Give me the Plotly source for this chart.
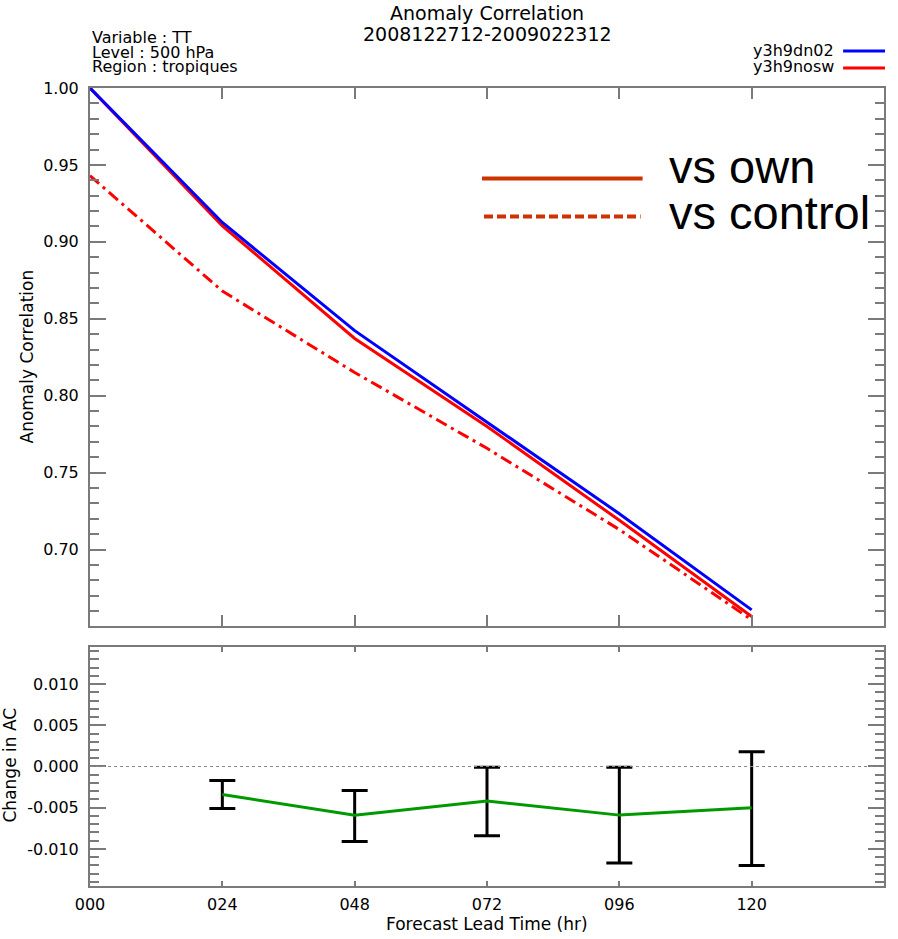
import plotly.graph_objects as go

# ---- data ----
lead_hours = [0, 24, 48, 72, 96, 120]
tick_hours = [0, 24, 48, 72, 96, 120]
tick_text = ["000", "024", "048", "072", "096", "120"]

ac_y3h9dn02 = [1.000, 0.9126, 0.8423, 0.7827, 0.7233, 0.6608]
ac_y3h9nosw = [1.000, 0.9104, 0.8372, 0.7800, 0.7190, 0.6565]
ac_vs_control = [0.943, 0.868, 0.8151, 0.7658, 0.7130, 0.6543]

diff_hours = [24, 48, 72, 96, 120]
ac_change = [-0.0034, -0.0059, -0.0042, -0.0059, -0.0050]
ci_upper = [-0.0017, -0.0029, -0.0001, -0.0001, 0.0018]
ci_lower = [-0.0051, -0.0091, -0.0084, -0.0117, -0.0120]

y2_tickvals = [-0.010, -0.005, 0.000, 0.005, 0.010]
y2_ticktext = ["-0.010", "-0.005", "0.000", "0.005", "0.010"]

err_plus = [u - v for u, v in zip(ci_upper, ac_change)]
err_minus = [v - l for v, l in zip(ac_change, ci_lower)]

FONT = "DejaVu Sans"
AXC = "#7a7a7a"

fig = go.Figure()
fig.add_trace(go.Scatter(x=lead_hours, y=ac_vs_control, mode="lines",
                         line=dict(color="#ff0000", width=3, dash="12px,5px,3px,5px"),
                         xaxis="x", yaxis="y", showlegend=False))
fig.add_trace(go.Scatter(x=lead_hours, y=ac_y3h9nosw, mode="lines",
                         line=dict(color="#ff0000", width=3),
                         xaxis="x", yaxis="y", showlegend=False))
fig.add_trace(go.Scatter(x=lead_hours, y=ac_y3h9dn02, mode="lines",
                         line=dict(color="#0000ff", width=3),
                         xaxis="x", yaxis="y", showlegend=False))
fig.add_trace(go.Scatter(x=diff_hours, y=ac_change, mode="lines",
                         line=dict(color="#009a00", width=3),
                         error_y=dict(type="data", symmetric=False, array=err_plus,
                                      arrayminus=err_minus, color="black",
                                      thickness=3, width=13),
                         xaxis="x2", yaxis="y2", showlegend=False))

common_x = dict(range=[0, 144], showline=True, linecolor=AXC, linewidth=2,
                mirror="ticks", ticks="inside", tickcolor=AXC, tickwidth=1.5,
                tickvals=tick_hours, showgrid=False, zeroline=False)
common_y = dict(showline=True, linecolor=AXC, linewidth=2, mirror="ticks",
                ticks="inside", tickcolor=AXC, tickwidth=1.5, ticklen=16,
                showgrid=False, zeroline=False,
                tickfont=dict(family=FONT, size=16, color="black"),
                ticklabelstandoff=6)

fig.update_layout(
    width=898, height=939,
    margin=dict(l=90, r=12, t=88, b=53),
    paper_bgcolor="white", plot_bgcolor="white",
    xaxis=dict(**common_x, anchor="y", ticklen=11, showticklabels=False),
    yaxis=dict(**common_y, domain=[0.3258, 1.0], anchor="x",
               range=[0.6503, 1.0], dtick=0.05, tick0=0, tickformat=".2f",
               minor=dict(dtick=0.01, tick0=0, ticks="inside", ticklen=9,
                          tickcolor=AXC, tickwidth=1.5)),
    xaxis2=dict(**common_x, anchor="y2", ticklen=5, ticktext=tick_text,
                tickfont=dict(family=FONT, size=16, color="black"),
                ticklabelstandoff=3),
    yaxis2=dict(**common_y, domain=[0.0, 0.2995], anchor="x2",
                range=[-0.0145, 0.0145], tickvals=y2_tickvals, ticktext=y2_ticktext,
                minor=dict(dtick=0.001, tick0=0, ticks="inside", ticklen=9,
                           tickcolor=AXC, tickwidth=1.5)),
)

# zero reference line in lower panel
fig.add_shape(type="line", xref="x2 domain", yref="y2", x0=0, x1=1, y0=0, y1=0,
              line=dict(color="#8a8a8a", width=1.2, dash="dot"))

def px_to_py(ypx):
    return 1 + (89 - ypx) / 798.0

def px_to_px(xpx):
    return (xpx - 90) / 796.0

ann = []
ann.append(dict(text="Anomaly Correlation", x=0.5, y=px_to_py(14), xref="paper", yref="paper",
                xanchor="center", yanchor="middle", showarrow=False,
                font=dict(family=FONT, size=19, color="black")))
ann.append(dict(text="2008122712-2009022312", x=0.5, y=px_to_py(35), xref="paper", yref="paper",
                xanchor="center", yanchor="middle", showarrow=False,
                font=dict(family=FONT, size=19, color="black")))
for txt, yy in [("Variable : TT", 38), ("Level : 500 hPa", 53), ("Region : tropiques", 68)]:
    ann.append(dict(text=txt, x=0, y=px_to_py(yy), xref="paper", yref="paper",
                    xanchor="left", yanchor="middle", showarrow=False,
                    font=dict(family=FONT, size=16, color="black")))
for txt, yy in [("y3h9dn02", 52), ("y3h9nosw", 68)]:
    ann.append(dict(text=txt, x=px_to_px(838), y=px_to_py(yy), xref="paper", yref="paper",
                    xanchor="right", yanchor="middle", showarrow=False,
                    font=dict(family=FONT, size=16, color="black")))
ann.append(dict(text="vs own", x=px_to_px(668), y=px_to_py(167), xref="paper", yref="paper",
                xanchor="left", yanchor="middle", showarrow=False,
                font=dict(family="Liberation Sans", size=47, color="black")))
ann.append(dict(text="vs control", x=px_to_px(668), y=px_to_py(213), xref="paper", yref="paper",
                xanchor="left", yanchor="middle", showarrow=False,
                font=dict(family="Liberation Sans", size=47, color="black")))
ann.append(dict(text="Anomaly Correlation", x=0, y=px_to_py(357.5), xref="paper", yref="paper",
                xanchor="center", yanchor="middle", xshift=-64, textangle=-90, showarrow=False,
                font=dict(family=FONT, size=17, color="black")))
ann.append(dict(text="Change in AC", x=0, y=px_to_py(766.5), xref="paper", yref="paper",
                xanchor="center", yanchor="middle", xshift=-81, textangle=-90, showarrow=False,
                font=dict(family=FONT, size=17, color="black")))
ann.append(dict(text="Forecast Lead Time (hr)", x=0.5, y=px_to_py(925), xref="paper", yref="paper",
                xanchor="center", yanchor="middle", showarrow=False,
                font=dict(family=FONT, size=17, color="black")))
fig.update_layout(annotations=ann)

# legend sample lines
fig.add_shape(type="line", xref="paper", yref="paper", x0=px_to_px(845), x1=px_to_px(887),
              y0=px_to_py(52), y1=px_to_py(52), line=dict(color="#0000ff", width=3))
fig.add_shape(type="line", xref="paper", yref="paper", x0=px_to_px(845), x1=px_to_px(887),
              y0=px_to_py(69), y1=px_to_py(69), line=dict(color="#ff0000", width=3))
fig.add_shape(type="line", xref="paper", yref="paper", x0=px_to_px(483), x1=px_to_px(644),
              y0=px_to_py(179.5), y1=px_to_py(179.5), line=dict(color="#cc3300", width=4))
fig.add_shape(type="line", xref="paper", yref="paper", x0=px_to_px(485), x1=px_to_px(642),
              y0=px_to_py(217.5), y1=px_to_py(217.5), line=dict(color="#cc3300", width=4, dash="9px,4px"))

fig.write_html("out.html")
